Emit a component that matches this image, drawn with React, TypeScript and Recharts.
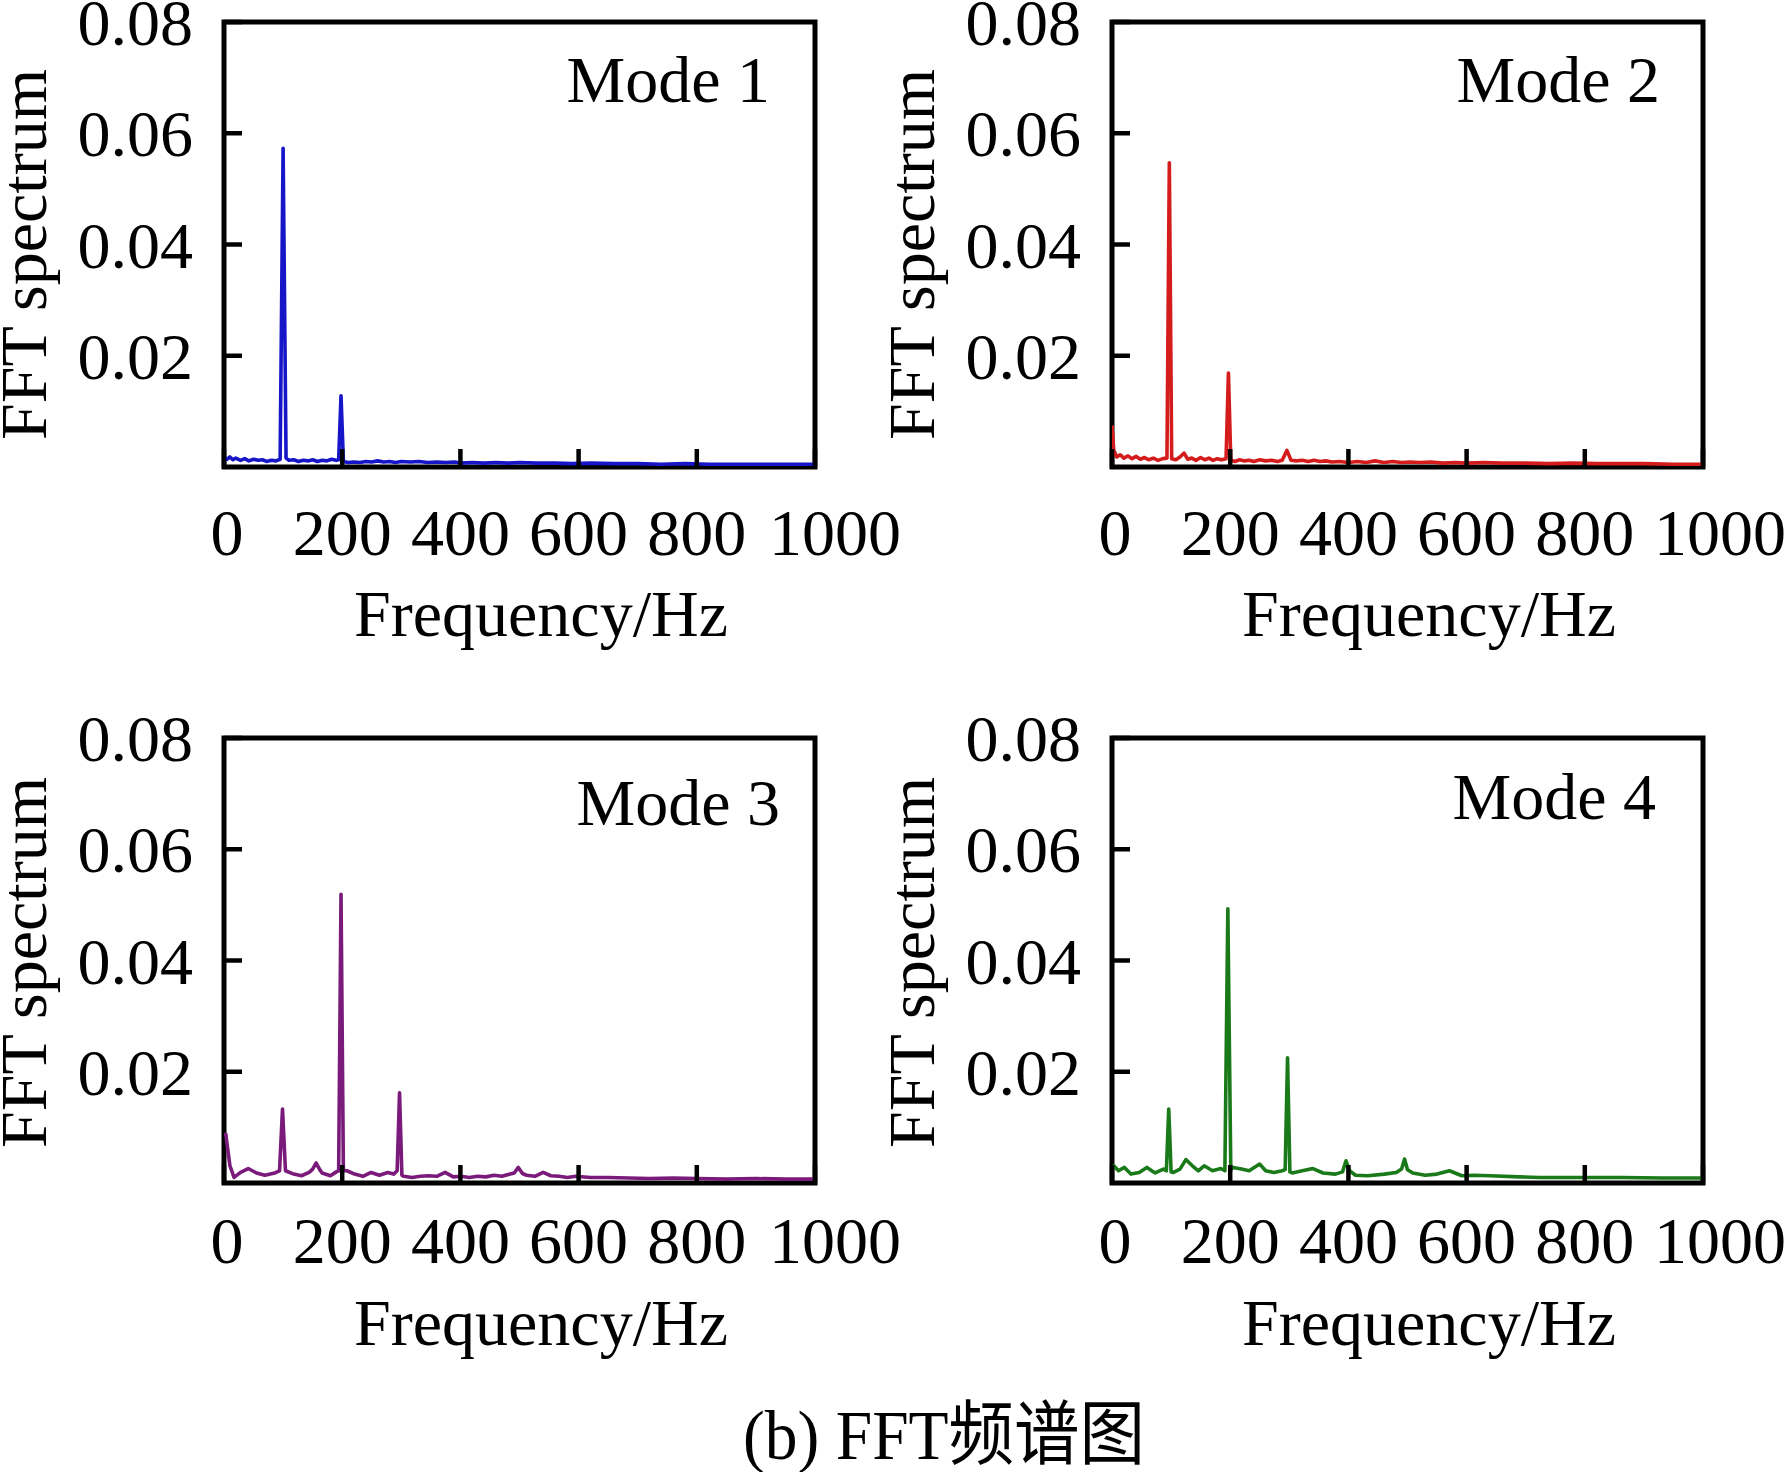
import React from 'react';
import { LineChart, Line, XAxis, YAxis, ReferenceArea } from 'recharts';

const FONT = '"Liberation Serif", "Times New Roman", serif';

const freqTicks = [0, 200, 400, 600, 800, 1000];
const freqTickLabels = ['0', '200', '400', '600', '800', '1000'];
const specTicks = [0.02, 0.04, 0.06, 0.08];
const specTickLabels = ['0.02', '0.04', '0.06', '0.08'];

const modeTitles = ['Mode 1', 'Mode 2', 'Mode 3', 'Mode 4'];
const modeColors = ['#1616c8', '#d41c1c', '#7a1a7a', '#1a7a1a'];

const mode1Freq = [0, 5, 10, 15, 20, 28, 35, 42, 50, 58, 65, 72, 80, 88, 95, 100, 105, 110, 118, 126, 134, 142, 150, 158, 166, 174, 182, 190, 194, 198, 202, 210, 220, 230, 240, 250, 260, 270, 280, 290, 300, 315, 330, 345, 360, 375, 390, 400, 420, 440, 460, 480, 500, 530, 560, 590, 620, 660, 700, 740, 780, 820, 860, 900, 950, 1000];
const mode1Amp = [0.0017, 0.0014, 0.0018, 0.0013, 0.0016, 0.0012, 0.0015, 0.0011, 0.0014, 0.0012, 0.0013, 0.0010, 0.0012, 0.0011, 0.0014, 0.0573, 0.0016, 0.0012, 0.0013, 0.0010, 0.0012, 0.0011, 0.0013, 0.0010, 0.0012, 0.0011, 0.0014, 0.0012, 0.0013, 0.0128, 0.0010, 0.0008, 0.0009, 0.0008, 0.0010, 0.0009, 0.0011, 0.0009, 0.0010, 0.0008, 0.0010, 0.0009, 0.0010, 0.0008, 0.0009, 0.0008, 0.0009, 0.0007, 0.0008, 0.0007, 0.0008, 0.0007, 0.0008, 0.0007, 0.0007, 0.0006, 0.0007, 0.0006, 0.0006, 0.0005, 0.0006, 0.0005, 0.0005, 0.0005, 0.0005, 0.0005];

const mode2Freq = [0, 3, 8, 14, 20, 27, 34, 41, 48, 55, 62, 70, 78, 86, 93, 97, 101, 108, 115, 122, 128, 135, 142, 150, 157, 164, 171, 178, 185, 193, 197, 201, 208, 216, 224, 232, 240, 250, 260, 270, 280, 288, 296, 303, 312, 322, 332, 342, 352, 362, 372, 385, 400, 415, 430, 445, 460, 475, 490, 505, 520, 540, 560, 580, 600, 630, 660, 700, 740, 780, 820, 860, 900, 950, 1000];
const mode2Amp = [0.0075, 0.0030, 0.0018, 0.0022, 0.0016, 0.0020, 0.0015, 0.0019, 0.0014, 0.0017, 0.0013, 0.0016, 0.0012, 0.0015, 0.0016, 0.0547, 0.0015, 0.0013, 0.0018, 0.0025, 0.0014, 0.0016, 0.0012, 0.0017, 0.0013, 0.0016, 0.0012, 0.0015, 0.0013, 0.0015, 0.0169, 0.0012, 0.0010, 0.0013, 0.0011, 0.0012, 0.0010, 0.0013, 0.0011, 0.0012, 0.0010, 0.0012, 0.0030, 0.0012, 0.0011, 0.0012, 0.0010, 0.0012, 0.0010, 0.0011, 0.0009, 0.0010, 0.0008, 0.0010, 0.0008, 0.0011, 0.0008, 0.0010, 0.0008, 0.0009, 0.0008, 0.0009, 0.0007, 0.0008, 0.0007, 0.0008, 0.0007, 0.0007, 0.0006, 0.0007, 0.0006, 0.0006, 0.0006, 0.0005, 0.0005];

const mode3Freq = [0, 3, 10, 17, 28, 41, 55, 69, 86, 94, 99, 104, 118, 131, 144, 150, 156, 162, 166, 180, 190, 194, 198, 202, 208, 221, 235, 249, 263, 277, 287, 293, 297, 301, 304, 318, 332, 346, 360, 374, 388, 401, 415, 429, 443, 457, 470, 484, 491, 498, 505, 512, 526, 540, 553, 567, 581, 595, 620, 650, 685, 720, 760, 800, 850, 900, 950, 1000];
const mode3Amp = [0.0085, 0.0088, 0.0031, 0.0010, 0.0019, 0.0026, 0.0018, 0.0014, 0.0018, 0.0022, 0.0133, 0.0022, 0.0016, 0.0013, 0.0019, 0.0025, 0.0036, 0.0024, 0.0018, 0.0013, 0.0020, 0.0022, 0.0519, 0.0022, 0.0022, 0.0016, 0.0012, 0.0019, 0.0014, 0.0019, 0.0016, 0.0022, 0.0162, 0.0014, 0.0012, 0.0010, 0.0012, 0.0013, 0.0012, 0.0019, 0.0011, 0.0012, 0.0010, 0.0012, 0.0011, 0.0014, 0.0012, 0.0016, 0.0018, 0.0028, 0.0017, 0.0014, 0.0012, 0.0019, 0.0013, 0.0012, 0.0010, 0.0012, 0.0010, 0.0010, 0.0009, 0.0008, 0.0009, 0.0008, 0.0007, 0.0008, 0.0007, 0.0007];

const mode4Freq = [0, 3, 11, 21, 32, 46, 59, 73, 87, 92, 96, 100, 104, 115, 125, 136, 146, 156, 170, 184, 191, 196, 201, 205, 219, 232, 250, 260, 274, 288, 293, 297, 301, 305, 322, 340, 357, 378, 390, 396, 402, 412, 433, 461, 481, 490, 495, 500, 509, 530, 550, 571, 592, 613, 640, 689, 723, 800, 862, 931, 1000];
const mode4Amp = [0.0028, 0.0031, 0.0022, 0.0028, 0.0016, 0.0019, 0.0028, 0.0018, 0.0025, 0.0022, 0.0133, 0.0020, 0.0019, 0.0025, 0.0042, 0.0031, 0.0022, 0.0031, 0.0022, 0.0026, 0.0022, 0.0493, 0.0024, 0.0028, 0.0025, 0.0022, 0.0034, 0.0022, 0.0019, 0.0022, 0.0024, 0.0225, 0.0020, 0.0018, 0.0022, 0.0026, 0.0018, 0.0016, 0.0020, 0.0040, 0.0022, 0.0014, 0.0013, 0.0016, 0.0019, 0.0025, 0.0043, 0.0024, 0.0018, 0.0014, 0.0016, 0.0022, 0.0013, 0.0014, 0.0013, 0.0011, 0.0010, 0.0010, 0.0010, 0.0009, 0.0009];

const xTitle = 'Frequency/Hz';
const yTitle = 'FFT spectrum';
const caption = '(b) FFT频谱图';

const toRows = (freqs: number[], amps: number[]) => freqs.map((f, i) => ({ f, a: amps[i] }));

const PAD = 20;
const CHART_W = 905 + PAD;
const CHART_H = 716 + PAD;
const MARGIN = { top: 22 + PAD, right: 90, bottom: 49, left: 74 + PAD };
const Y_AXIS_W = 150;
const X_AXIS_H = 200;
const TICK_LEN = 18;

type PanelProps = {
  rows: { f: number; a: number }[];
  color: string;
  title: string;
  left: number;
  top: number;
  xTickDy: number;
  xTitleDy: number;
  yTitleDy: number;
  titleRight: number;
  titleDy: number;
  lastShift: number;
};

function Panel(p: PanelProps) {
  const XTick = (props: any) => {
    const { x, y, payload } = props;
    const idx = freqTicks.indexOf(payload.value);
    const shift = payload.value === 1000 ? p.lastShift : payload.value === 0 ? 3 : 0;
    return (
      <text x={x + shift} y={y} textAnchor="middle" fontFamily={FONT} fontSize={66} fill="#000">
        {freqTickLabels[idx]}
      </text>
    );
  };
  const YTick = (props: any) => {
    const { x, y, payload } = props;
    const idx = specTicks.indexOf(payload.value);
    return (
      <text x={x} y={y + 23} textAnchor="end" fontFamily={FONT} fontSize={66} fill="#000">
        {specTickLabels[idx]}
      </text>
    );
  };
  const XTitle = (props: any) => {
    const vb = props.viewBox;
    return (
      <text x={vb.x + 317} y={vb.y + p.xTitleDy} textAnchor="middle" fontFamily={FONT} fontSize={66} fill="#000">
        {xTitle}
      </text>
    );
  };
  const YTitle = (props: any) => {
    const vb = props.viewBox;
    const cx = vb.x - 28;
    const cy = vb.y + vb.height / 2 + p.yTitleDy;
    return (
      <text x={cx} y={cy} transform={`rotate(-90 ${cx} ${cy})`} textAnchor="middle" fontFamily={FONT} fontSize={66} fill="#000">
        {yTitle}
      </text>
    );
  };
  const ModeTitle = (props: any) => {
    const vb = props.viewBox;
    return (
      <text x={vb.x + vb.width - p.titleRight} y={vb.y + p.titleDy} textAnchor="end" fontFamily={FONT} fontSize={66} fill="#000">
        {p.title}
      </text>
    );
  };
  return (
    <div style={{ position: 'absolute', left: p.left - PAD, top: p.top - PAD, width: CHART_W, height: CHART_H }}>
      <LineChart width={CHART_W} height={CHART_H} data={p.rows} margin={MARGIN} style={{ overflow: 'visible' }}>
        <XAxis
          dataKey="f"
          type="number"
          domain={[0, 1000]}
          ticks={freqTicks}
          interval={0}
          allowDataOverflow
          axisLine={false}
          tickSize={-TICK_LEN}
          tickMargin={TICK_LEN + p.xTickDy}
          tickLine={{ stroke: '#000', strokeWidth: 4.5 }}
          tick={XTick}
          height={X_AXIS_H}
          label={XTitle}
        />
        <YAxis
          type="number"
          domain={[0, 0.08]}
          ticks={specTicks}
          interval={0}
          allowDataOverflow
          axisLine={false}
          tickSize={-TICK_LEN}
          tickMargin={TICK_LEN + 31}
          tickLine={{ stroke: '#000', strokeWidth: 4.5 }}
          tick={YTick}
          width={Y_AXIS_W}
          label={YTitle}
        />
        <Line
          dataKey="a"
          type="linear"
          stroke={p.color}
          strokeWidth={3.6}
          strokeLinejoin="round"
          dot={false}
          activeDot={false}
          isAnimationActive={false}
        />
        <ReferenceArea
          x1={0}
          x2={1000}
          y1={0}
          y2={0.08}
          fill="none"
          fillOpacity={0}
          stroke="#000"
          strokeWidth={5}
          strokeOpacity={1}
          ifOverflow="visible"
          label={ModeTitle}
        />
      </LineChart>
    </div>
  );
}

export default function App() {
  const panels = [
    { rows: toRows(mode1Freq, mode1Amp), left: 0, top: 0, xTickDy: 88, xTitleDy: 169, yTitleDy: 10, titleRight: 45, titleDy: 80, lastShift: 20 },
    { rows: toRows(mode2Freq, mode2Amp), left: 888, top: 0, xTickDy: 88, xTitleDy: 169, yTitleDy: 10, titleRight: 43, titleDy: 80, lastShift: 17 },
    { rows: toRows(mode3Freq, mode3Amp), left: 0, top: 716, xTickDy: 80, xTitleDy: 162, yTitleDy: 2, titleRight: 35, titleDy: 87, lastShift: 20 },
    { rows: toRows(mode4Freq, mode4Amp), left: 888, top: 716, xTickDy: 80, xTitleDy: 162, yTitleDy: 2, titleRight: 47, titleDy: 81, lastShift: 17 },
  ];
  return (
    <div style={{ position: 'absolute', left: 0, top: 0, width: 1787, height: 1472, background: '#fff', overflow: 'hidden' }}>
      {panels.map((pp, i) => (
        <Panel key={i} {...pp} color={modeColors[i]} title={modeTitles[i]} />
      ))}
      <svg style={{ position: 'absolute', left: 0, top: 1380 }} width={1787} height={92}>
        <text
          x={743}
          y={79}
          fontFamily={'"Liberation Serif", "Noto Sans CJK SC", serif'}
          fontSize={70}
          fill="#000"
          textLength={402}
          lengthAdjust="spacingAndGlyphs"
        >
          {caption}
        </text>
      </svg>
    </div>
  );
}
